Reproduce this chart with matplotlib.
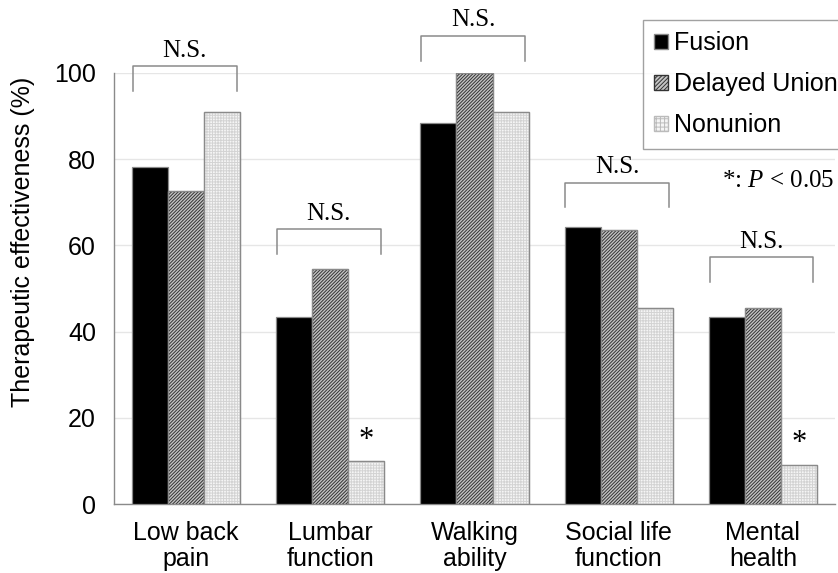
import numpy as np
import matplotlib
matplotlib.use("Agg")
import matplotlib.pyplot as plt
from matplotlib.patches import Patch

plt.rcParams['font.family'] = ['Liberation Sans', 'DejaVu Sans']
plt.rcParams['mathtext.fontset'] = 'custom'
plt.rcParams['mathtext.it'] = 'Liberation Serif:italic'
plt.rcParams['mathtext.rm'] = 'Liberation Serif'
plt.rcParams['hatch.linewidth'] = 0.7

categories = ["Low back\npain", "Lumbar\nfunction", "Walking\nability", "Social life\nfunction", "Mental\nhealth"]
groups = ["Fusion", "Delayed Union", "Nonunion"]
fusion = [78.3, 43.5, 88.5, 64.3, 43.3]
delayed = [72.7, 54.5, 100.0, 63.6, 45.5]
nonunion = [90.9, 10.0, 90.9, 45.5, 9.1]
bracket_top = [101.6, 63.8, 108.6, 74.5, 57.3]
star_idx = [1, 4]
star_y = [14.8, 14.0]

fig = plt.figure(figsize=(8.38, 5.73), dpi=100)
ax = fig.add_axes([114/838, 1-504/573, (835-114)/838, (504-73)/573])

x = np.arange(len(categories))
w = 0.25
edge = '#8a8a8a'

styles = [
    dict(face='black', hatch=None, hcol=None),
    dict(face='#c4c4c4', hatch='//////////', hcol='#333333'),
    dict(face='#f5f5f5', hatch='++++++', hcol='#d3d3d3'),
]
series = [fusion, delayed, nonunion]

for k, (vals, st) in enumerate(zip(series, styles)):
    pos = x + (k - 1) * w
    ax.bar(pos, vals, w, color=st['face'], edgecolor=edge, linewidth=0.9, zorder=3)
    if st['hatch']:
        ax.bar(pos, vals, w, facecolor='none', edgecolor=st['hcol'], hatch=st['hatch'],
               linewidth=0, zorder=3)
        ax.bar(pos, vals, w, facecolor='none', edgecolor=edge, linewidth=0.9, zorder=3)

ax.set_xlim(-0.5, 4.5)
ax.set_ylim(0, 100)
ax.set_yticks([0, 20, 40, 60, 80, 100])
ax.set_xticks(x)
ax.set_xticklabels(categories, fontsize=18, linespacing=1.1)
ax.tick_params(axis='x', length=0, pad=12)
ax.tick_params(axis='y', length=0, pad=13, labelsize=18)
ax.yaxis.grid(True, color='#e6e6e6', linewidth=1, zorder=0)
ax.set_axisbelow(True)
for s in ['top', 'right']:
    ax.spines[s].set_visible(False)
for s in ['left', 'bottom']:
    ax.spines[s].set_color(edge)
    ax.spines[s].set_linewidth(1.0)

# N.S. brackets
for i, top in enumerate(bracket_top):
    xl, xr = i - 0.37, i + 0.35
    ax.plot([xl, xl, xr, xr], [top - 5.7, top, top, top - 5.7], color='#8a8a8a',
            linewidth=1.1, clip_on=False, zorder=4)
    ax.text((xl + xr) / 2, top + 3.6, "N.S.", family='Liberation Serif', fontsize=18,
            ha='center', va='center', clip_on=False)

for i, sy in zip(star_idx, star_y):
    ax.text(i + w, sy, "*", family='Liberation Serif', fontsize=22, ha='center', va='center')

fig.text(23/838, 1-242/573, "Therapeutic effectiveness (%)", rotation=90, fontsize=18,
         ha='center', va='center')

fig.text(834/838, 1-181/573, "*: $P$ < 0.05", family='Liberation Serif', fontsize=18,
         ha='right', va='center')

handles = [
    Patch(facecolor='black', edgecolor=edge),
    Patch(facecolor='#c4c4c4', edgecolor='#333333', hatch='////////'),
    Patch(facecolor='#f5f5f5', edgecolor='#bbbbbb', hatch='++++'),
]
leg = fig.legend(handles, groups, loc='upper left', bbox_to_anchor=(643/838, 1-20/573),
                 fontsize=18, frameon=True, fancybox=False, handlelength=0.55,
                 handleheight=0.55, handletextpad=0.25, labelspacing=0.68,
                 borderpad=0.45, borderaxespad=0)
leg.get_frame().set_edgecolor('#8a8a8a')
leg.get_frame().set_linewidth(1.0)

fig.savefig("out.png", dpi=100)
